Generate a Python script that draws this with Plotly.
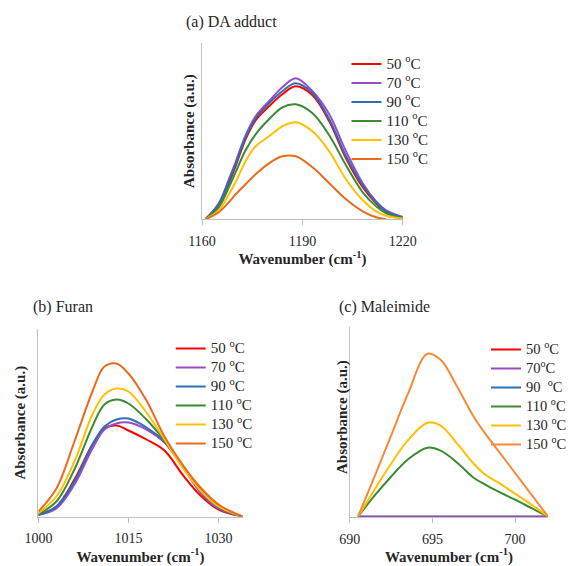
import plotly.graph_objects as go

W, H = 572, 566
FONT = "Liberation Serif"

temps = ["50", "70", "90", "110", "130", "150"]
colors_ab = ["#FF0000", "#9A4BC8", "#2E6EB5", "#3B8B2F", "#FFC000", "#EB6A1F"]
colors_c = ["#FF0000", "#9A4BC8", "#2E6EB5", "#3B8B2F", "#FFC000", "#F6893A"]

# (a) DA adduct
wn_a = [1161, 1165, 1168, 1170, 1173, 1176, 1180, 1184, 1188, 1193, 1198, 1203, 1208, 1212, 1215, 1218, 1220]
a_50 = [0, 14, 36, 53, 80, 99, 113, 125, 133, 124, 98, 61, 32, 16, 7.5, 3.3, 1.3]
a_70 = [0, 16, 40, 57, 84, 103, 118, 132, 141, 128, 105, 68, 36, 18, 9, 4.5, 2.3]
a_90 = [0, 15, 38, 55, 82, 101, 116, 128, 136, 126, 100, 63, 34, 17, 8, 3.8, 1.7]
a_110 = [0, 12, 32, 47, 69, 85, 100, 112, 115, 106, 84, 54, 27, 13, 6, 2.5, 1.3]
a_130 = [0, 9, 25, 37, 58, 73, 83, 93, 97, 88, 68, 40, 19, 8, 3.5, 1.5, 0.7]
a_150 = [0, 7, 17, 25, 35, 45, 56, 63, 63, 52, 36, 20, 8, 2, 0, None, None]

# (b) Furan
wn_b = [1000, 1003, 1006, 1009, 1011, 1013, 1015, 1018, 1021, 1024, 1027, 1030, 1034]
b_50 = [1.7, 10, 37, 72, 88, 91, 86, 77, 66, 42, 21, 7, 0]
b_70 = [1.7, 8, 32, 68, 87, 93, 94, 87, 74, 50, 24, 8, 0]
b_90 = [1.7, 10, 35, 72, 90, 97, 98, 89, 75, 51, 26, 9, 0]
b_110 = [2.3, 15, 47, 90, 112, 117, 113, 97, 76, 51, 27, 10, 0]
b_130 = [3.3, 20, 55, 102, 122, 128, 125, 104, 77, 49, 26, 10, 0]
b_150 = [5, 28, 75, 125, 150, 153, 143, 116, 80, 52, 29, 12, 0]

# (c) Maleimide
wn_c = [690.5, 691.5, 692.5, 693.5, 694.7, 695.5, 696.5, 697.5, 698.2, 699, 700, 701, 702]
c_50 = [0] * 13
c_70 = [0] * 13
c_90 = [0] * 13
c_110 = [0, 21, 40, 57, 69, 66, 54, 39, 32, 25, 17, 8.5, 0]
c_130 = [0, 27, 53, 76, 94, 91, 73, 53, 42, 34, 23, 12, 0]
c_150 = [0, 40, 81, 122, 163, 157, 130, 100, 83, 65.5, 43.7, 21.8, 0]

leg_names = [
    "50 <sup>o</sup>C", "70 <sup>o</sup>C", "90 <sup>o</sup>C",
    "110 <sup>o</sup>C", "130 <sup>o</sup>C", "150 <sup>o</sup>C",
]
leg_names_c = [
    "50 <sup>o</sup>C", "70<sup>o</sup>C", "90  <sup>o</sup>C",
    "110 <sup>o</sup>C", "130 <sup>o</sup>C", "150 <sup>o</sup>C",
]


def px_x(p):
    return p / W


def px_y(p):
    return 1 - p / H


fig = go.Figure()


def add_panel(wn, series, names, colors, xa, ya, legend, order, size):
    for i in order:
        fig.add_trace(go.Scatter(
            x=wn, y=series[i], mode="lines",
            line=dict(color=colors[i], width=2, shape="spline", smoothing=1),
            name='<span style="font-size:%spx">' % size + names[i] + '</span>',
            legend=legend, legendrank=i + 1,
            xaxis=xa, yaxis=ya, hoverinfo="skip",
        ))


add_panel(wn_a, [a_50, a_70, a_90, a_110, a_130, a_150], leg_names, colors_ab,
          "x", "y", "legend", [0, 1, 2, 3, 4, 5], 15)
add_panel(wn_b, [b_50, b_70, b_90, b_110, b_130, b_150], leg_names, colors_ab,
          "x2", "y2", "legend2", [0, 1, 2, 3, 4, 5], 15)
add_panel(wn_c, [c_50, c_70, c_90, c_110, c_130, c_150], leg_names_c, colors_c,
          "x3", "y3", "legend3", [0, 2, 1, 3, 4, 5], 14.5)

axis_line = "#BFBFBF"
tickfont = dict(family=FONT, size=14, color="#262626")
titlefont = dict(family=FONT, size=15, color="#262626")


def xax(dom, rng, tv, anchor, standoff):
    return dict(domain=dom, range=rng, tickvals=tv, anchor=anchor,
                showline=True, linecolor=axis_line, linewidth=1,
                ticks="outside", ticklen=5, tickcolor=axis_line, tickwidth=1,
                showgrid=False, zeroline=False, tickfont=tickfont,
                ticklabelstandoff=4, automargin=False,
                title=dict(text="<b>Wavenumber (cm<sup>-1</sup>)</b>", font=titlefont,
                           standoff=standoff))


def yax(dom, rng, anchor, standoff, title=True):
    return dict(domain=dom, range=rng, anchor=anchor,
                showline=True, linecolor=axis_line, linewidth=1,
                ticks="", showticklabels=False, showgrid=False, zeroline=False,
                automargin=False,
                title=dict(text="<b>Absorbance (a.u.)</b>" if title else "",
                           font=titlefont, standoff=standoff))


def leg(x, y, size):
    return dict(x=x, y=y, xanchor="left", yanchor="top",
                bgcolor="rgba(0,0,0,0)", borderwidth=0,
                font=dict(family=FONT, size=size, color="#262626"),
                itemclick=False, itemdoubleclick=False)


def label(text, x, y, size=16):
    return dict(text=text, xref="paper", yref="paper", x=px_x(x), y=px_y(y),
                xanchor="left", yanchor="middle", showarrow=False,
                font=dict(family=FONT, size=size, color="#262626"))


fig.update_layout(
    width=W, height=H, autosize=False,
    margin=dict(l=0, r=0, t=0, b=0),
    paper_bgcolor="white", plot_bgcolor="white",
    font=dict(family=FONT, color="#262626"),
    xaxis=xax([px_x(205.3), px_x(409.3)], [1160, 1220], [1160, 1190, 1220], "y", 4),
    yaxis=yax([px_y(219.3), px_y(43)], [0, 176.3], "x", 2),
    xaxis2=xax([px_x(39), px_x(246.4)], [1000, 1034], [1000, 1015, 1030], "y2", 5),
    yaxis2=yax([px_y(516.5), px_y(329)], [0, 187.5], "x2", 8),
    xaxis3=xax([px_x(355.3), px_x(556.9)], [690, 702], [690, 695, 700], "y3", 5),
    yaxis3=yax([px_y(516.7), px_y(326.7)], [0, 190], "x3", 0, title=False),
    legend=leg(px_x(352), px_y(49.5), 12),
    legend2=leg(px_x(173.5), px_y(334), 11.7),
    legend3=leg(px_x(494), px_y(335), 12.3),
    showlegend=True,
    annotations=[
        label("(a) DA adduct", 187, 22),
        label("(b) Furan", 32, 307),
        label("(c) Maleimide", 342, 307),
        dict(text="<b>Absorbance (a.u.)</b>", xref="paper", yref="paper",
             x=px_x(347.5), y=px_y(417), xanchor="center", yanchor="middle",
             textangle=-90, showarrow=False, font=titlefont),
    ],
)

fig.write_html("out.html", config={"displayModeBar": False},
               post_script="document.body.style.margin='0px';")
